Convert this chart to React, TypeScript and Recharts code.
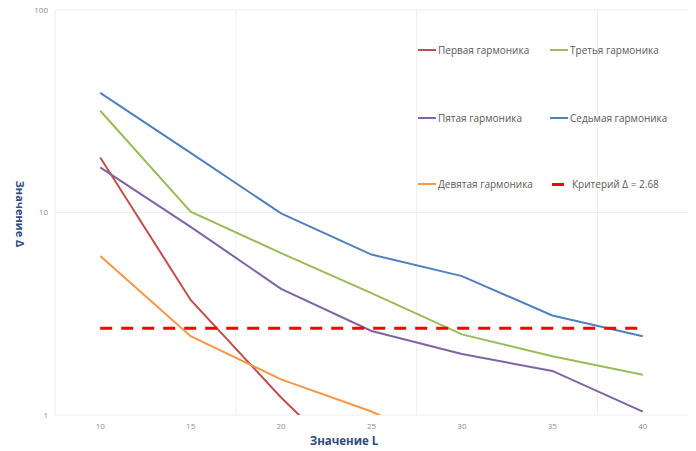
import React from 'react';
import { LineChart, Line, XAxis, YAxis, CartesianGrid, ReferenceLine, Legend } from 'recharts';

const lengths = [10, 15, 20, 25, 30, 35, 40];
const first = [18.7, 3.7, 1.22, 0.45, null, null, null];
const third = [31.8, 10.1, 6.3, 4.0, 2.5, 1.95, 1.58];
const fifth = [16.7, 8.5, 4.2, 2.6, 2.0, 1.65, 1.04];
const seventh = [39, 19.7, 9.9, 6.2, 4.85, 3.1, 2.45];
const ninth = [6.1, 2.45, 1.5, 1.04, 0.65, null, null];
const criterion = [2.68, 2.68, 2.68, 2.68, 2.68, 2.68, 2.68];

const xTicks = [10, 15, 20, 25, 30, 35, 40];
const yTicks = [1, 10, 100];
const gridX = [7.5, 17.5, 27.5, 37.5];

const data = lengths.map((L, i) => ({
  L,
  first: first[i],
  third: third[i],
  fifth: fifth[i],
  seventh: seventh[i],
  ninth: ninth[i],
  criterion: criterion[i],
}));

const font = '"Open Sans", "Noto Sans", sans-serif';

// where each legend entry sits (chart coords)
const legendPos: Record<string, { x: number; y: number }> = {
  first: { x: 410, y: 50 },
  third: { x: 542, y: 50 },
  fifth: { x: 410, y: 118 },
  seventh: { x: 542, y: 118 },
  ninth: { x: 410, y: 184 },
  criterion: { x: 542, y: 184 },
};

function LegendBox(props: any) {
  const items = props.payload || [];
  return (
    <div style={{ position: 'relative', width: 680, height: 1 }}>
      {items.map((it: any, i: number) => {
        const p = legendPos[it.dataKey];
        if (!p) return null;
        const dashed = it.dataKey === 'criterion';
        return (
          <div
            key={i}
            style={{
              position: 'absolute',
              left: p.x,
              top: p.y - 8,
              height: 16,
              display: 'flex',
              alignItems: 'center',
              fontFamily: font,
              fontSize: 10,
              color: '#595959',
              whiteSpace: 'nowrap',
            }}
          >
            {dashed ? (
              <span style={{ display: 'inline-block', width: 12, height: 3, background: it.color, margin: '0 8px 0 2px' }} />
            ) : (
              <span style={{ display: 'inline-block', width: 18, height: 2, background: it.color, marginRight: 2 }} />
            )}
            {it.value}
          </div>
        );
      })}
    </div>
  );
}

const YTitle = (props: any) => {
  const { viewBox } = props;
  const cy = viewBox.y + 204;
  return (
    <text
      x={12}
      y={cy}
      transform={`rotate(90, 12, ${cy})`}
      textAnchor="middle"
      dominantBaseline="central"
      fontFamily={font}
      fontSize={11}
      fontWeight="bold"
      fill="#2f4b7c"
    >
      Значение Δ
    </text>
  );
};

const XTitle = () => (
  <text x={336} y={440} textAnchor="middle" dominantBaseline="central" fontFamily={font} fontSize={11.5} fontWeight="bold" fill="#2f4b7c">
    Значение L
  </text>
);

export default function App() {
  return (
    <div style={{ width: 680, height: 448, marginTop: -8, background: '#fff' }}>
      <LineChart width={680} height={448} data={data} margin={{ top: 10, right: 0, bottom: 3, left: 0 }}>
        <CartesianGrid vertical={false} stroke="#eeeeee" />
        {gridX.map((g) => (
          <ReferenceLine key={g} x={g} stroke="#eeeeee" />
        ))}
        <XAxis
          dataKey="L"
          type="number"
          domain={[7.5, 42.5]}
          ticks={xTicks}
          axisLine={false}
          tickLine={false}
          tickSize={0}
          tickMargin={8}
          height={30}
          tick={{ fontSize: 8, fill: '#8c8c8c', fontFamily: font }}
          label={<XTitle />}
        />
        <YAxis
          scale="log"
          domain={[1, 100]}
          ticks={yTicks}
          allowDataOverflow
          axisLine={false}
          tickLine={false}
          tickSize={0}
          tickMargin={7}
          width={47}
          tick={{ fontSize: 8, fill: '#8c8c8c', fontFamily: font }}
          label={<YTitle />}
        />
        <Legend
          layout="horizontal"
          verticalAlign="middle"
          content={<LegendBox />}
          wrapperStyle={{ position: 'absolute', left: 0, top: 0, width: 680, height: 1 }}
        />
        <Line dataKey="first" name="Первая гармоника" stroke="#c0504d" strokeWidth={2} dot={false} isAnimationActive={false} />
        <Line dataKey="third" name="Третья гармоника" stroke="#9bbb59" strokeWidth={2} dot={false} isAnimationActive={false} />
        <Line dataKey="fifth" name="Пятая гармоника" stroke="#8064a2" strokeWidth={2} dot={false} isAnimationActive={false} />
        <Line dataKey="seventh" name="Седьмая гармоника" stroke="#4f81bd" strokeWidth={2} dot={false} isAnimationActive={false} />
        <Line dataKey="ninth" name="Девятая гармоника" stroke="#f79646" strokeWidth={2} dot={false} isAnimationActive={false} />
        <Line
          dataKey="criterion"
          name="Критерий Δ = 2.68"
          stroke="#ff0000"
          strokeWidth={3}
          strokeDasharray="12 9"
          dot={false}
          isAnimationActive={false}
        />
      </LineChart>
    </div>
  );
}
